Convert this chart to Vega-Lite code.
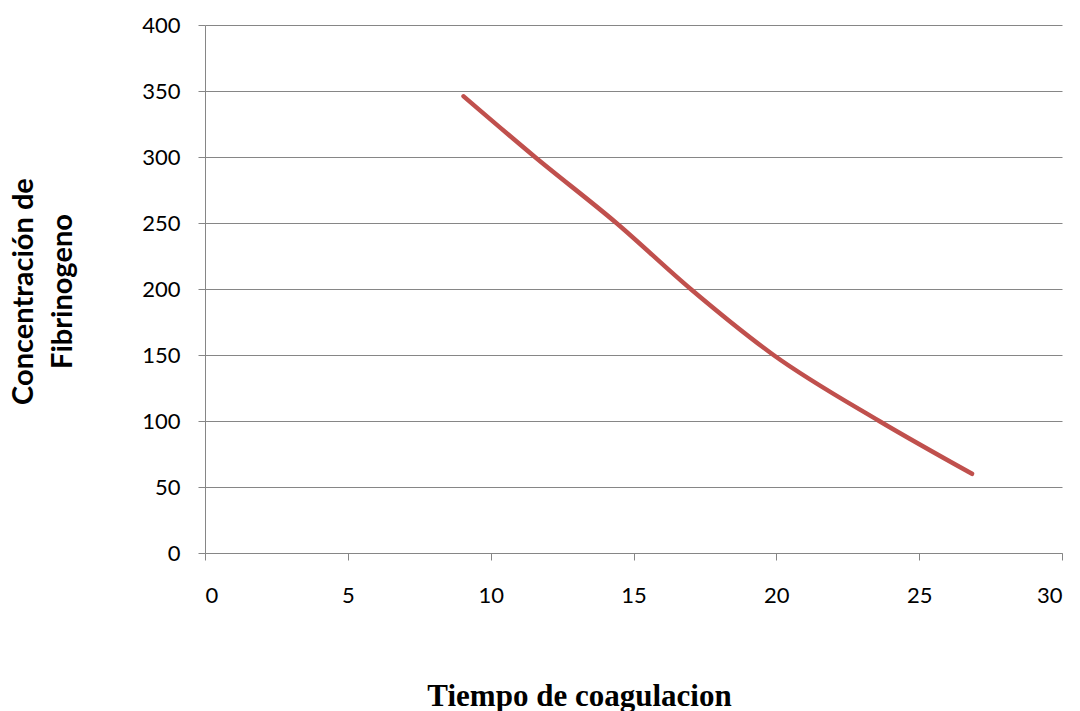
{
  "$schema": "https://vega.github.io/schema/vega-lite/v6.json",
  "width": 857,
  "height": 528,
  "autosize": {"type": "none"},
  "padding": {"left": 205, "top": 25, "right": 18, "bottom": 158},
  "background": "white",
  "config": {
    "view": {"stroke": null},
    "axis": {
      "labelFont": "Lato",
      "labelFontSize": 22,
      "labelColor": "#000000",
      "gridColor": "#868686",
      "gridWidth": 1,
      "domainColor": "#868686",
      "domainWidth": 1,
      "tickColor": "#868686",
      "tickSize": 7,
      "tickWidth": 1
    }
  },
  "data": {
    "values": [
      {"tiempo": 9.05, "conc": 346},
      {"tiempo": 11.55, "conc": 300},
      {"tiempo": 14.4, "conc": 250},
      {"tiempo": 17.0, "conc": 200},
      {"tiempo": 19.9, "conc": 150},
      {"tiempo": 23.6, "conc": 100},
      {"tiempo": 26.85, "conc": 60}
    ]
  },
  "mark": {"type": "line", "color": "#C0504D", "strokeWidth": 4.5, "interpolate": "monotone", "strokeCap": "round"},
  "encoding": {
    "x": {
      "field": "tiempo",
      "type": "quantitative",
      "scale": {"domain": [0, 30], "nice": false},
      "axis": {
        "values": [0, 5, 10, 15, 20, 25, 30],
        "grid": false,
        "labelPadding": 25,
        "title": "Tiempo de coagulacion",
        "titleFont": "Liberation Serif",
        "titleFontSize": 31,
        "titleFontWeight": "bold",
        "titleColor": "#000000",
        "titleBaseline": "alphabetic",
        "titleAlign": "center",
        "titleX": 374,
        "titleY": 152
      }
    },
    "y": {
      "field": "conc",
      "type": "quantitative",
      "scale": {"domain": [0, 400], "nice": false},
      "axis": {
        "values": [0, 50, 100, 150, 200, 250, 300, 350, 400],
        "grid": true,
        "labelPadding": 18,
        "title": ["Concentración de", "Fibrinogeno"],
        "titleFont": "Lato",
        "titleFontSize": 29,
        "titleFontWeight": "bold",
        "titleColor": "#000000",
        "titleLineHeight": 39,
        "titleAngle": -90,
        "titleX": -182,
        "titleY": 266,
        "titleAlign": "center",
        "titleBaseline": "middle"
      }
    }
  }
}
